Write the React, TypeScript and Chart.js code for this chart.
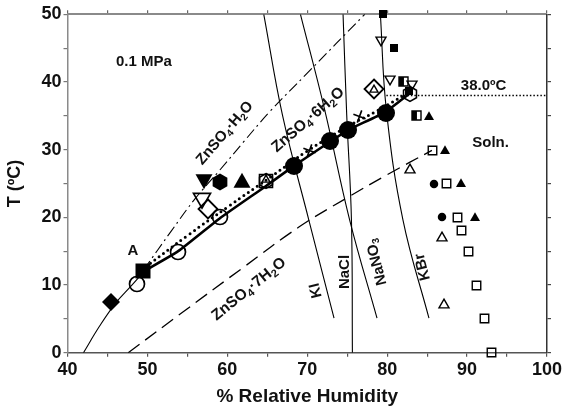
import React, { useEffect, useRef } from 'react';
import { Chart, registerables } from 'chart.js';
Chart.register(...registerables);

const FONT = '"Liberation Sans", Arial, Helvetica, sans-serif';

// ---- axis ticks ----
const xTickValues = [40, 50, 60, 70, 80, 90, 100];
const yTickValues = [0, 10, 20, 30, 40, 50];

// ---- phase-boundary curves ([RH %, T °C]) ----
const lowerBranch = [[42, 0], [44, 3.9], [46, 7.3], [48, 9.9], [49.5, 11.9]];
const hexaHeptaLine = [[49.5, 12], [53.85, 15], [59, 19.8], [64.8, 24.6], [68.35, 27.6], [72.9, 31.2], [75.1, 32.9], [79.8, 35.6], [82.8, 38.3]];
const dottedFit = [[49.8, 12.7], [55, 17.3], [60, 21.5], [65.7, 26.2], [70, 29.8], [75, 33.4], [79, 35.9], [82.5, 38.3]];
const monohydrateLine = [[49.5, 12.2], [53, 18], [56, 22.8], [59, 26.9], [62, 31.1], [65.3, 35.6], [70, 41.3], [77.2, 50]];
const heptahydrateLine = [[47.6, 0], [55, 6.5], [62, 12.6], [69, 18.6], [75, 22.9], [80, 26.3], [85.6, 29.9]];
const kiLine = [[64.56, 50], [66.9, 35.1], [70.2, 19.6], [73.35, 5.1]];
const naclLine = [[74.48, 50], [74.94, 35.1], [75.53, 19.6], [75.65, 0]];
const nano3Line = [[69.15, 50], [72.19, 35.85], [75.31, 19.6], [78.73, 5.1]];
const kbrLine = [[79.15, 50], [79.9, 35.85], [81.98, 19.6], [85.23, 5.1]];
const transition38 = [[79.9, 38], [100, 38]];

// ---- measured points ----
const bigFilledCircles = [[68.35, 27.6], [72.9, 31.3], [75.1, 32.9], [79.8, 35.45]];
const smallFilledCircles = [[85.85, 25], [86.8, 20]];
const bigOpenCircles = [[48.7, 10.1], [53.85, 14.9], [59.06, 20]];
const bigFilledSquare = [[49.5, 12]];
const smallFilledSquares = [[79.5, 50], [80.85, 45], [82.7, 38.6]];
const bigFilledDiamond = [[45.5, 7.5]];
const bigFilledInvTriangle = [[57.06, 25.3]];
const bigFilledHexagon = [[59.06, 25.2]];
const bigFilledTriangle = [[61.8, 25.3]];
const smallFilledTriangles = [[85.2, 35], [87.2, 30], [89.2, 25.1], [91, 20.1]];
const bigOpenInvTriangle = [[56.8, 22.6]];
const smallOpenInvTriangles = [[79.2, 46.1], [80.3, 40.3], [83.1, 39.6]];
const bigOpenDiamonds = [[57.6, 21.3], [78.3, 38.9]];
const smallOpenTrianglesInside = [[78.3, 38.9], [64.8, 25.6]];
const openHexagons = [[82.8, 38.2], [64.8, 25.3]];
const openSquareMid = [[64.8, 25.3]];
const halfFilledSquares = [[82.06, 40], [83.65, 35]];
const smallOpenSquares = [[85.7, 29.9], [87.4, 25], [88.85, 20], [89.3, 18], [90.2, 15], [91.15, 10], [92.2, 5.1], [93, 0]];
const smallOpenTriangles = [[82.9, 27.1], [86.8, 17.1], [87.06, 7.2]];
const crossMarks = [[70.3, 29.9], [76.6, 34.9]];

// ---- text annotations ----
const annotationTexts = ['0.1 MPa', 'ZnSO_4·H_2O', 'ZnSO_4·6H_2O', 'ZnSO_4·7H_2O', 'KI', 'NaCl', 'NaNO_3', 'KBr', 'Soln.', 'A', '38.0ºC'];
const annotationX = [49.56, 59.69, 70.1, 62.7, 71.1, 74.69, 78.7, 84.44, 92.94, 48.19, 92.06];
const annotationY = [42.94, 32.45, 34.4, 9.4, 9.2, 11.92, 13.4, 12.66, 31.0, 15.0, 39.4];
const annotationRot = [0, -49, -41, -39, -104, -90, -104, -104, 0, 0, 0];
const annotationSize = [15, 15, 15.5, 15.5, 15, 15, 15, 15, 15, 15, 15];

type Part = { shape: string; size: number; mode: 'fill' | 'open' | 'half'; dx?: number; dy?: number; lw?: number };

function makeMarker(parts: Part[], box: number): HTMLCanvasElement {
  const c = document.createElement('canvas');
  c.width = box;
  c.height = box;
  const ctx = c.getContext('2d')!;
  for (const p of parts) {
    const cx = box / 2 + (p.dx || 0);
    const cy = box / 2 + (p.dy || 0);
    const s = p.size;
    const h = s / 2;
    const lw = p.lw ?? 1.6;
    ctx.beginPath();
    switch (p.shape) {
      case 'circle':
        ctx.arc(cx, cy, h, 0, Math.PI * 2);
        break;
      case 'square':
        ctx.rect(cx - h, cy - h, s, s);
        break;
      case 'diamond':
        ctx.moveTo(cx, cy - h); ctx.lineTo(cx + h, cy); ctx.lineTo(cx, cy + h); ctx.lineTo(cx - h, cy); ctx.closePath();
        break;
      case 'tri': {
        const th = s * 0.87;
        ctx.moveTo(cx, cy - th * 0.55); ctx.lineTo(cx + h, cy + th * 0.45); ctx.lineTo(cx - h, cy + th * 0.45); ctx.closePath();
        break;
      }
      case 'itri': {
        const th = s * 0.87;
        ctx.moveTo(cx, cy + th * 0.55); ctx.lineTo(cx + h, cy - th * 0.45); ctx.lineTo(cx - h, cy - th * 0.45); ctx.closePath();
        break;
      }
      case 'hex':
        for (let i = 0; i < 6; i++) {
          const a = -Math.PI / 2 + (i * Math.PI) / 3;
          const px = cx + h * Math.cos(a);
          const py = cy + h * Math.sin(a);
          if (i === 0) ctx.moveTo(px, py); else ctx.lineTo(px, py);
        }
        ctx.closePath();
        break;
      case 'cross': {
        const a = 0.35;
        ctx.moveTo(cx - h * Math.cos(a), cy - h * Math.sin(a)); ctx.lineTo(cx + h * Math.cos(a), cy + h * Math.sin(a));
        ctx.moveTo(cx + h * Math.sin(a), cy - h * Math.cos(a)); ctx.lineTo(cx - h * Math.sin(a), cy + h * Math.cos(a));
        break;
      }
    }
    ctx.lineWidth = lw;
    ctx.strokeStyle = '#000';
    ctx.fillStyle = '#000';
    if (p.mode === 'fill' && p.shape !== 'cross') {
      ctx.fill();
    } else if (p.mode === 'half') {
      ctx.fillStyle = '#fff';
      ctx.fill();
      ctx.save();
      ctx.beginPath();
      ctx.rect(cx - h, cy - h, s * 0.55, s);
      ctx.fillStyle = '#000';
      ctx.fill();
      ctx.restore();
      ctx.beginPath();
      ctx.rect(cx - h, cy - h, s, s);
      ctx.stroke();
    } else {
      ctx.stroke();
    }
  }
  return c;
}

const toXY = (arr: number[][]) => arr.map(([x, y]) => ({ x, y }));

function drawRich(ctx: CanvasRenderingContext2D, text: string, size: number) {
  const parts = text.split(/(_\d)/).filter((s) => s.length);
  const segs = parts.map((p) => (p.startsWith('_') ? { t: p.slice(1), sub: true } : { t: p, sub: false }));
  const big = `bold ${size}px ${FONT}`;
  const small = `bold ${Math.round(size * 0.68)}px ${FONT}`;
  let total = 0;
  const widths = segs.map((s) => {
    ctx.font = s.sub ? small : big;
    const w = ctx.measureText(s.t).width;
    total += w;
    return w;
  });
  let x = -total / 2;
  segs.forEach((s, i) => {
    ctx.font = s.sub ? small : big;
    ctx.fillText(s.t, x, s.sub ? size * 0.3 : 0);
    x += widths[i];
  });
}

const crispPlugin = {
  id: 'crisp',
  beforeDatasetsDraw(chart: any) {
    chart.ctx.imageSmoothingEnabled = false;
  },
};

const annotationPlugin = {
  id: 'annots',
  afterDatasetsDraw(chart: any) {
    const { ctx, scales } = chart;
    ctx.save();
    ctx.fillStyle = '#111';
    ctx.textBaseline = 'middle';
    ctx.textAlign = 'left';
    annotationTexts.forEach((t, i) => {
      const px = scales.x.getPixelForValue(annotationX[i]);
      const py = scales.y.getPixelForValue(annotationY[i]);
      ctx.save();
      ctx.translate(px, py);
      ctx.rotate((annotationRot[i] * Math.PI) / 180);
      drawRich(ctx, t, annotationSize[i]);
      ctx.restore();
    });
    ctx.restore();
  },
};

export default function App() {
  const ref = useRef<HTMLCanvasElement>(null);
  useEffect(() => {
    if (!ref.current) return;
    const M = (parts: Part[], box: number) => makeMarker(parts, box);
    const lineDs = (data: number[][], extra: any) => ({
      type: 'scatter',
      data: toXY(data),
      showLine: true,
      pointRadius: 0,
      borderColor: '#000',
      borderWidth: 1.1,
      tension: 0.4,
      fill: false,
      order: 10,
      ...extra,
    });
    const ptDs = (data: number[][], style: HTMLCanvasElement, order = 1) => ({
      type: 'scatter',
      data: toXY(data),
      pointStyle: style,
      pointRadius: 5,
      showLine: false,
      clip: false,
      order,
    });

    const datasets: any[] = [
      lineDs(lowerBranch, { borderWidth: 1.1 }),
      lineDs(hexaHeptaLine, { borderWidth: 2.6, tension: 0.2 }),
      lineDs(dottedFit, { borderWidth: 3, borderDash: [0, 5.5], borderCapStyle: 'round' }),
      lineDs(monohydrateLine, { borderWidth: 1.1, borderDash: [11, 4, 2, 4] }),
      lineDs(heptahydrateLine, { borderWidth: 1.3, borderDash: [14, 7] }),
      lineDs(kiLine, {}),
      lineDs(naclLine, {}),
      lineDs(nano3Line, {}),
      lineDs(kbrLine, {}),
      lineDs(transition38, { borderWidth: 1.5, borderDash: [1.5, 2], tension: 0 }),

      ptDs(bigFilledCircles, M([{ shape: 'circle', size: 18, mode: 'fill' }], 22)),
      ptDs(smallFilledCircles, M([{ shape: 'circle', size: 8.5, mode: 'fill' }], 12)),
      ptDs(bigOpenCircles, M([{ shape: 'circle', size: 15, mode: 'open', lw: 1.7 }], 20)),
      ptDs(bigFilledSquare, M([{ shape: 'square', size: 15, mode: 'fill' }], 20)),
      ptDs(smallFilledSquares, M([{ shape: 'square', size: 8, mode: 'fill' }], 12)),
      ptDs(bigFilledDiamond, M([{ shape: 'diamond', size: 18, mode: 'fill' }], 22)),
      ptDs(bigFilledInvTriangle, M([{ shape: 'itri', size: 17, mode: 'fill' }], 22)),
      ptDs(bigFilledHexagon, M([{ shape: 'hex', size: 17, mode: 'fill' }], 22)),
      ptDs(bigFilledTriangle, M([{ shape: 'tri', size: 17, mode: 'fill' }], 22)),
      ptDs(smallFilledTriangles, M([{ shape: 'tri', size: 10, mode: 'fill' }], 14)),
      ptDs(bigOpenInvTriangle, M([{ shape: 'itri', size: 17, mode: 'open', lw: 1.7 }], 22)),
      ptDs(smallOpenInvTriangles, M([{ shape: 'itri', size: 10, mode: 'open', lw: 1.4 }], 14)),
      ptDs(bigOpenDiamonds, M([{ shape: 'diamond', size: 19, mode: 'open', lw: 1.8 }], 24)),
      ptDs(smallOpenTrianglesInside, M([{ shape: 'tri', size: 8, mode: 'open', lw: 1.4 }], 12)),
      ptDs(openHexagons, M([{ shape: 'hex', size: 15, mode: 'open', lw: 1.5 }], 20), 2),
      ptDs(openSquareMid, M([{ shape: 'square', size: 13, mode: 'open', lw: 1.6 }], 18)),
      ptDs(halfFilledSquares, M([{ shape: 'square', size: 9, mode: 'half', lw: 1.4 }], 13)),
      ptDs(smallOpenSquares, M([{ shape: 'square', size: 8.5, mode: 'open', lw: 1.4 }], 13)),
      ptDs(smallOpenTriangles, M([{ shape: 'tri', size: 10, mode: 'open', lw: 1.4 }], 14)),
      ptDs(crossMarks, M([{ shape: 'cross', size: 13, mode: 'open', lw: 1.6 }], 17)),
    ];

    const tickFont = { family: FONT, size: 18, weight: 'bold' as const };
    const chart = new Chart(ref.current, {
      type: 'scatter',
      data: { datasets },
      plugins: [crispPlugin, annotationPlugin],
      options: {
        animation: false,
        responsive: false,
        events: [],
        layout: { padding: 0 },
        plugins: { legend: { display: false }, tooltip: { enabled: false }, title: { display: false } },
        scales: {
          x: {
            type: 'linear', position: 'bottom', min: 40, max: 100,
            afterBuildTicks: (s: any) => { s.ticks = [40, 45, 50, 55, 60, 65, 70, 75, 80, 85, 90, 95, 100].map((v) => ({ value: v })); },
            ticks: {
              autoSkip: false, maxRotation: 0, padding: 3, color: '#111', font: tickFont,
              callback: (v: any) => (xTickValues.includes(Number(v)) ? String(v) : ''),
            },
            grid: { drawOnChartArea: false, tickLength: 4, color: '#555', lineWidth: 1.2 },
            border: { color: '#555', width: 1.5 },
            title: { display: true, text: '% Relative Humidity', color: '#111', font: { family: FONT, size: 19, weight: 'bold' }, padding: { top: 0, bottom: 2 } },
            afterFit: (s: any) => { s.height = 57.3; },
          },
          xTop: {
            type: 'linear', position: 'top', min: 40, max: 100,
            afterBuildTicks: (s: any) => { s.ticks = [40, 45, 50, 55, 60, 65, 70, 75, 80, 85, 90, 95, 100].map((v) => ({ value: v })); },
            ticks: { display: false },
            grid: { drawOnChartArea: false, tickLength: 4, color: '#666', lineWidth: 1.2 },
            border: { color: '#8a8a8a', width: 2 },
            afterFit: (s: any) => { s.height = 14.3; },
          },
          y: {
            type: 'linear', position: 'left', min: 0, max: 50,
            afterBuildTicks: (s: any) => { s.ticks = [0, 5, 10, 15, 20, 25, 30, 35, 40, 45, 50].map((v) => ({ value: v })); },
            ticks: {
              autoSkip: false, padding: 2, color: '#111', font: tickFont,
              callback: (v: any) => (yTickValues.includes(Number(v)) ? String(v) : ''),
            },
            grid: { drawOnChartArea: false, tickLength: 4, color: '#777', lineWidth: 1.2 },
            border: { color: '#8a8a8a', width: 1.5 },
            title: { display: true, text: 'T (ºC)', color: '#111', font: { family: FONT, size: 18, weight: 'bold' }, padding: { top: 4, bottom: 0 } },
            afterFit: (s: any) => { s.width = 67.5; },
          },
          yRight: {
            type: 'linear', position: 'right', min: 0, max: 50,
            afterBuildTicks: (s: any) => { s.ticks = [0, 5, 10, 15, 20, 25, 30, 35, 40, 45, 50].map((v) => ({ value: v })); },
            ticks: { display: false },
            grid: { drawOnChartArea: false, tickLength: 4, color: '#444', lineWidth: 1.2 },
            border: { color: '#333', width: 1.5 },
            afterFit: (s: any) => { s.width = 20; },
          },
        },
      } as any,
    });
    return () => chart.destroy();
  }, []);

  return (
    <div style={{ position: 'absolute', left: 0, top: 0, width: 567, height: 410, background: '#fff' }}>
      <canvas ref={ref} width={567} height={410} style={{ display: 'block' }} />
    </div>
  );
}
